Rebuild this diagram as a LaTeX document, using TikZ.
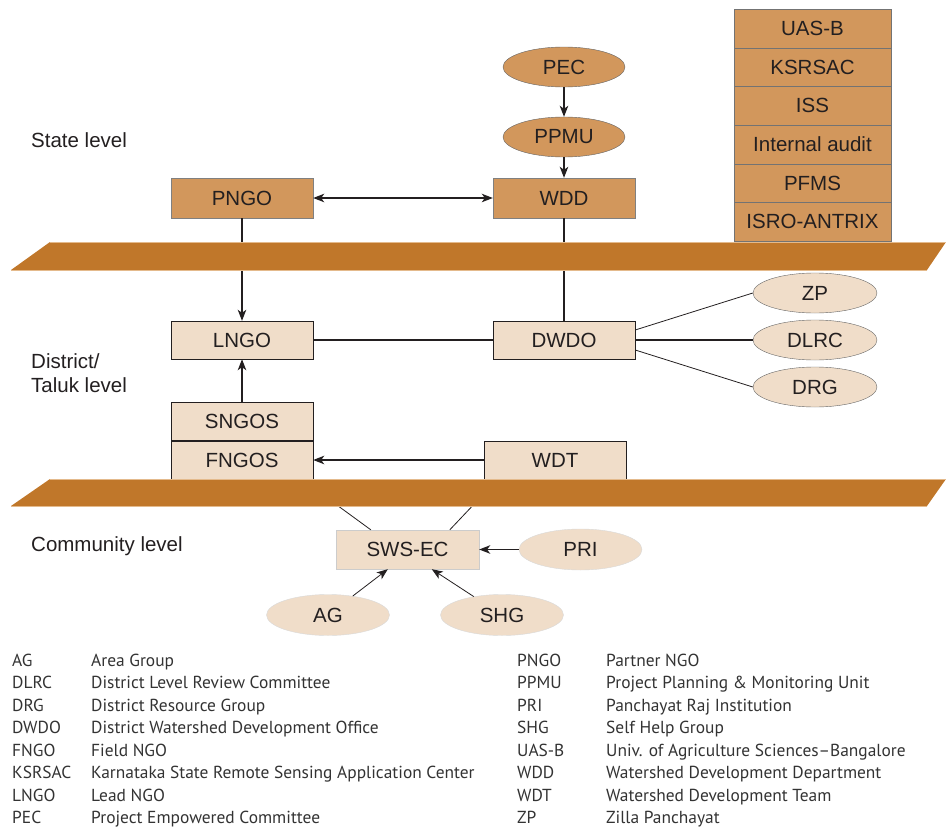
\documentclass[tikz,border=0pt]{standalone}
\usepackage{fontspec}
\setmainfont{Liberation Sans}
\newfontfamily\legendfont[Ligatures=TeX]{PT Sans}
\usetikzlibrary{shapes,arrows.meta}

\definecolor{darkbox}{RGB}{210,151,92}
\definecolor{lightbox}{RGB}{240,221,201}
\definecolor{bandfill}{RGB}{192,119,42}
\definecolor{bandedge}{RGB}{228,186,140}
\definecolor{ink}{RGB}{35,31,32}

\begin{document}
\begin{tikzpicture}[x=1pt,y=-1pt,
    >={Stealth[length=11pt,width=8.5pt,inset=3pt]},
    every node/.style={text=ink,font=\fontsize{20.5}{24}\selectfont},
    darkrect/.style={rectangle,draw=black!50,fill=darkbox,minimum width=142pt,minimum height=40pt,inner sep=0pt},
    lightrect/.style={rectangle,draw=ink,fill=lightbox,minimum width=142pt,minimum height=38pt,inner sep=0pt},
    darkoval/.style={ellipse,draw=black!60,fill=darkbox,minimum width=122pt,minimum height=40pt,inner sep=0pt},
    lightoval/.style={ellipse,draw=black!60,fill=lightbox,minimum width=124pt,minimum height=40pt,inner sep=0pt},
    stackrect/.style={rectangle,draw=black!55,fill=darkbox,minimum width=157pt,minimum height=38.7pt,inner sep=0pt},
    levellabel/.style={anchor=west,align=left,inner xsep=0pt},
    link/.style={draw=ink,line width=1.3pt},
    thinlink/.style={draw=ink,line width=0.8pt},
    legend/.style={anchor=base west,inner xsep=0pt,text=black!80,font=\legendfont\fontsize{17.4}{20}\selectfont}]

  \useasboundingbox (0,0) rectangle (946,827);

  \def\upperband{(50,242) -- (946,242) -- (927,270) -- (11,270) -- cycle}
  \def\lowerband{(50,479) -- (946,479) -- (927,506) -- (11,506) -- cycle}

  % state level
  \node[darkoval] (pec) at (564,67) {PEC};
  \node[darkoval] (ppmu) at (564,137) {PPMU};
  \node[darkrect] (pngo) at (242,198) {PNGO};
  \node[darkrect] (wdd) at (564,198) {WDD};

  \node[stackrect] (uasb) at (812.5,28.35) {UAS-B};
  \node[stackrect] (ksrsac) at (812.5,67.05) {KSRSAC};
  \node[stackrect] (iss) at (812.5,105.75) {ISS};
  \node[stackrect] (audit) at (812.5,144.45) {Internal audit};
  \node[stackrect] (pfms) at (812.5,183.15) {PFMS};
  \node[stackrect] (isro) at (812.5,221.85) {ISRO-ANTRIX};

  % district level
  \node[lightrect] (lngo) at (242,340) {LNGO};
  \node[lightrect] (dwdo) at (564,340) {DWDO};
  \node[lightoval] (zp) at (815,293) {ZP};
  \node[lightoval] (dlrc) at (815,340) {DLRC};
  \node[lightoval] (drg) at (815,387) {DRG};
  \node[lightrect] (sngos) at (242,421.5) {SNGOS};
  \node[lightrect] (fngos) at (242,460) {FNGOS};
  \node[lightrect] (wdt) at (555,460) {WDT};

  % community level
  \node[rectangle,draw=black!20,fill=lightbox,minimum width=143pt,minimum height=39pt] (swsec) at (407.5,549.5) {SWS-EC};
  \node[ellipse,draw=black!15,fill=lightbox,minimum width=123pt,minimum height=41pt,inner sep=0pt] (pri) at (580.5,549.5) {PRI};
  \node[ellipse,draw=black!15,fill=lightbox,minimum width=123pt,minimum height=41pt,inner sep=0pt] (ag) at (328,615) {AG};
  \node[ellipse,draw=black!15,fill=lightbox,minimum width=123pt,minimum height=41pt,inner sep=0pt] (shg) at (502,615) {SHG};

  \node[levellabel] (statelabel) at (31,140) {State level};
  \node[levellabel] (districtlabel) at (31,373) {District/\\Taluk level};
  \node[levellabel] (communitylabel) at (31,546) {Community level};

  \coordinate (swsleft) at (330,500);
  \coordinate (swsright) at (478,500);

  \draw[link,->] (pec) -- (ppmu);
  \draw[link,->] (ppmu) -- (wdd);
  \draw[link,<->] (pngo) -- (wdd);
  \draw[link,->] (pngo) -- (lngo);
  \draw[link] (wdd) -- (dwdo);
  \draw[link] (lngo) -- (dwdo);
  \draw[thinlink] ([yshift=10pt]dwdo.east) -- (zp.west);
  \draw[link] (dwdo.east) -- (dlrc.west);
  \draw[thinlink] ([yshift=-10pt]dwdo.east) -- (drg.west);
  \draw[link,->] (sngos) -- (lngo);
  \draw[link,->] (wdt) -- (fngos);
  \draw[thinlink] (swsleft) -- ([xshift=35pt]swsec.north west);
  \draw[thinlink] (swsright) -- ([xshift=114pt]swsec.north west);
  \draw[link,->] (pri) -- (swsec);
  \draw[thinlink,->] (ag) -- ([xshift=52pt]swsec.south west);
  \draw[thinlink,->] (shg) -- ([xshift=96pt]swsec.south west);

  \fill[bandfill] \upperband;
  \fill[bandfill] \lowerband;
  \draw[bandedge,line width=0.6pt] (50,242) -- (946,242) (11,270) -- (927,270);
  \draw[bandedge,line width=0.6pt] (50,479) -- (946,479) (11,506) -- (927,506);

  % legend
  \foreach \abbr/\full [count=\i] in {AG/Area Group,DLRC/District Level Review Committee,DRG/District Resource Group,DWDO/District Watershed Development Office,FNGO/Field NGO,KSRSAC/Karnataka State Remote Sensing Application Center,LNGO/Lead NGO,PEC/Project Empowered Committee}{
    \node[legend] (leftabbr\i) at (12,643.5+22.5*\i) {\abbr};
    \node[legend] (leftfull\i) at (91,643.5+22.5*\i) {\full};
  }
  \foreach \abbr/\full [count=\i] in {PNGO/Partner NGO,PPMU/Project Planning \& Monitoring Unit,PRI/Panchayat Raj Institution,SHG/Self Help Group,UAS-B/Univ. of Agriculture Sciences–Bangalore,WDD/Watershed Development Department,WDT/Watershed Development Team,ZP/Zilla Panchayat}{
    \node[legend] (rightabbr\i) at (517,643.5+22.5*\i) {\abbr};
    \node[legend] (rightfull\i) at (606,643.5+22.5*\i) {\full};
  }

\end{tikzpicture}
\end{document}
